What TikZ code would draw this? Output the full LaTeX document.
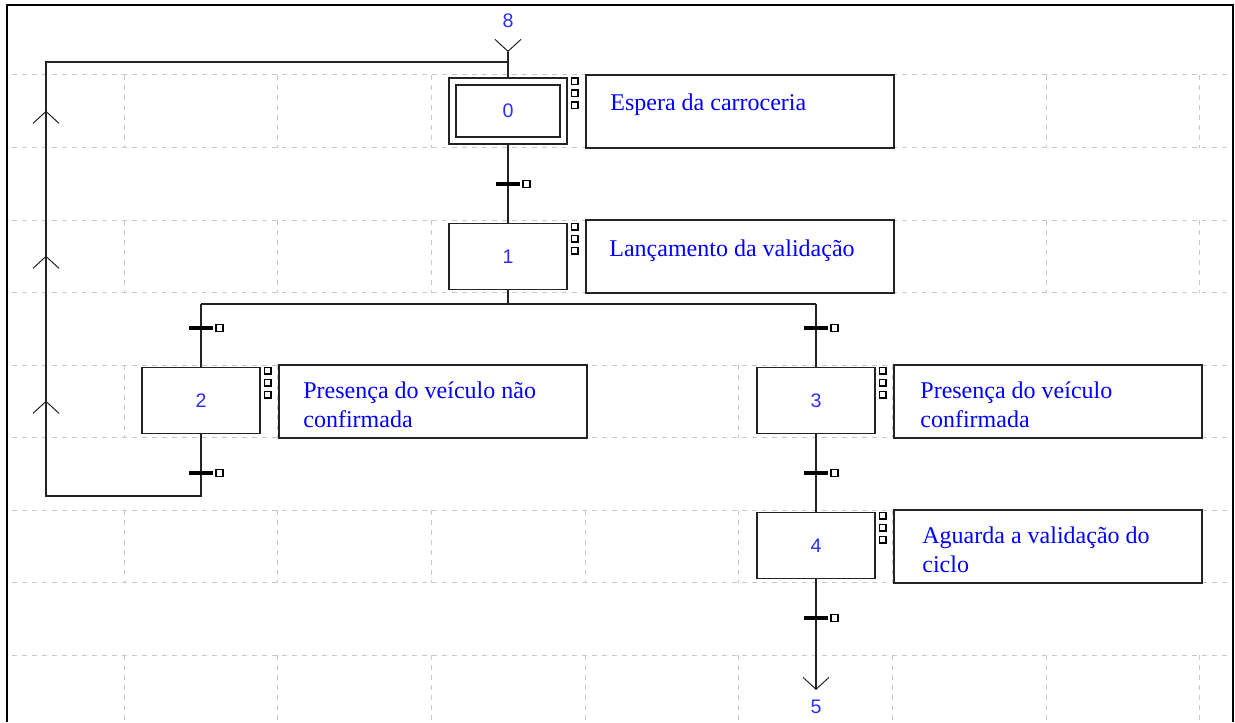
\documentclass[tikz,border=0pt]{standalone}
\usepackage{fontspec}
\setmainfont{Liberation Serif}
\newfontfamily\stepfont{Liberation Sans}
\usepackage{tikz}
\usetikzlibrary{arrows.meta, decorations.markings}
\usetikzlibrary{calc}
\usepackage{xcolor}
\definecolor{actblue}{RGB}{0,0,255}
\definecolor{numblue}{RGB}{45,45,255}
\definecolor{gridgray}{RGB}{200,200,200}
\definecolor{linegray}{RGB}{35,35,35}

\begin{document}
\begin{tikzpicture}[x=0.5pt, y=-0.5pt,
	stepbox/.style={draw=linegray, fill=white, line width=0.8pt, minimum width=59pt, minimum height=33pt, inner sep=0pt, text=numblue, font=\stepfont\fontsize{9.8}{11}\selectfont},
	actbox/.style={draw=linegray, fill=white, line width=1pt, minimum width=154pt, minimum height=36.5pt, inner sep=0pt, anchor=north west},
	acttext/.style={anchor=base west, align=left, inner sep=0pt, text=actblue, font=\fontsize{12}{14.5}\selectfont},
	numlbl/.style={inner sep=0pt, text=numblue, font=\stepfont\fontsize{9.8}{11}\selectfont},
	actsq/.style={draw=black, fill=white, line width=0.75pt, minimum size=3.4pt, inner sep=0pt},
	trbar/.style={fill=black, minimum width=12pt, minimum height=1.7pt, inner sep=0pt},
	link/.style={draw=linegray, line width=0.8pt},
	barb/.tip={Straight Barb[length=6pt, width=13pt, line width=0.5pt]},
	gridline/.style={draw=gridgray, line width=0.5pt, dash pattern=on 2.5pt off 2.5pt}]
	\useasboundingbox (0,0) rectangle (1235,722);

	% grid of the editor
	\foreach \r in {0,...,8}
		\draw[gridline] (12,{75+72.5*\r}) -- (1230,{75+72.5*\r});
	\foreach \r in {0,2,4,6,8}
		\foreach \c in {0,...,7}
			\draw[gridline] ({124+153.7*\c},{75+72.5*\r}) -- ++(0,72.5);
	\draw[line width=1pt] (7,722) -- (7,5) -- (1233,5) -- (1233,722);

	% steps
	\node[stepbox] (s0) at (508,111) {};
	\node[stepbox, minimum width=52pt, minimum height=26pt] (s0i) at (s0) {0};
	\node[stepbox] (s1) at (508,256.5) {1};
	\node[stepbox] (s2) at (201,400.5) {2};
	\node[stepbox] (s3) at (816,400.5) {3};
	\node[stepbox] (s4) at (816,545.5) {4};
	\foreach \s in {s0,s1,s2,s3,s4}
		\foreach \k in {0,1,2}
			\node[actsq] (\s q\k) at ($(\s.north east)+(7,{4+12*\k})$) {};

	% actions (two-line texts are placed by their last baseline)
	\node[actbox] (a0) at (585,74) {};
	\node[actbox] (a1) at (585,219) {};
	\node[actbox] (a2) at (278,364) {};
	\node[actbox] (a3) at (893,364) {};
	\node[actbox] (a4) at (893,509) {};
	\node[acttext] (l0) at ($(a0.north west)+(25,37)$) {Espera da carroceria};
	\node[acttext] (l1) at ($(a1.north west)+(24,37)$) {Lançamento da validação};
	\node[acttext] (l2) at ($(a2.north west)+(25,63)$) {Presença do veículo não\\confirmada};
	\node[acttext] (l3) at ($(a3.north west)+(27,63)$) {Presença do veículo\\confirmada};
	\node[acttext] (l4) at ($(a4.north west)+(29,63)$) {Aguarda a validação do\\ciclo};

	% references
	\node[numlbl] (n8) at (508,21) {8};
	\node[numlbl] (n5) at (816,707) {5};
	\coordinate (e8) at (508,52);
	\coordinate (j0) at (508,62);
	\coordinate (d0) at (508,304);
	\coordinate (d1) at (201,304);
	\coordinate (d2) at (816,304);
	\coordinate (j2) at (201,496);
	\coordinate (c1) at (46,496);
	\coordinate (c2) at (46,62);
	\coordinate (e5) at (816,690);

	% links
	\draw[link, postaction=decorate, decoration={markings, mark=at position 0.01pt with {\arrow{barb}}}] (e8) -- (s0.north);
	\draw[link] (s0.south) -- (s1.north);
	\draw[link] (s1.south) -- (d0) (d1) -- (d2) (d1) -- (s2.north) (d2) -- (s3.north);
	\draw[link] (s3.south) -- (s4.north);
	\draw[link, -barb] (s4.south) -- (e5);
	\draw[link, postaction=decorate, decoration={markings,
		mark=at position 156pt with {\arrow{barb}},
		mark=at position 228.5pt with {\arrow{barb}},
		mark=at position 301pt with {\arrow{barb}}}] (s2.south) -- (j2) -- (c1) -- (c2) -- (j0);

	% transitions
	\foreach \n/\x/\y in {t0/508/184, t1/201/328, t2/816/328, t3/201/473, t4/816/473, t5/816/618} {
		\node[trbar] (\n) at (\x,\y) {};
		\node[actsq] (\n q) at ($(\n)+(18.5,0)$) {};
	}
\end{tikzpicture}
\end{document}
